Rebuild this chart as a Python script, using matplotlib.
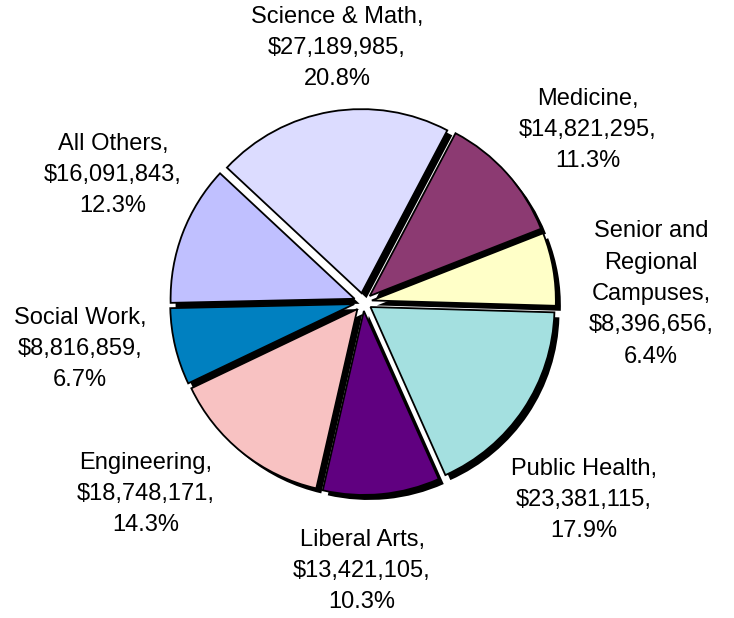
import matplotlib
matplotlib.use("Agg")
import matplotlib.pyplot as plt

# slices in clockwise order starting from Science & Math
names = ["Science & Math", "Medicine", "Senior and\nRegional\nCampuses", "Public Health",
         "Liberal Arts", "Engineering", "Social Work", "All Others"]
amounts = [27189985, 14821295, 8396656, 23381115, 13421105, 18748171, 8816859, 16091843]
colors = ["#DCDCFF", "#8C3A72", "#FFFFC8", "#A4E0E0", "#600080", "#F8C2C2", "#0080C0", "#C0C0FF"]

# label centres in pixels (x, y from top)
label_pos = [(337, 48), (588, 130), (651, 294), (584, 500),
             (362, 571), (146, 494), (80, 349), (113, 175)]

W, H = 734, 618
cx, cy = 363, H - 302
radius = 184
shadow = 5

plt.rcParams['font.family'] = ['Liberation Sans', 'DejaVu Sans']

fig = plt.figure(figsize=(W / 100, H / 100), dpi=100)
ax = fig.add_axes([0, 0, 1, 1])

# pie() offsets exploded wedges by this amount in data units (pixels here)
explode = [9] * len(amounts)

# black drop shadow first, then the coloured pie on top
ax.pie(amounts, explode=explode, startangle=137, counterclock=False,
       radius=radius, center=(cx + shadow, cy - shadow),
       colors=["black"] * len(amounts), wedgeprops=dict(linewidth=0))
ax.pie(amounts, explode=explode, startangle=137, counterclock=False,
       radius=radius, center=(cx, cy), colors=colors,
       wedgeprops=dict(edgecolor="black", linewidth=1.3))

total = sum(amounts)
for name, v, (lx, ly) in zip(names, amounts, label_pos):
    txt = "%s,\n$%s,\n%.1f%%" % (name, format(v, ","), v / total * 100)
    ax.text(lx, H - ly, txt, ha="center", va="center", multialignment="center",
            fontsize=17, linespacing=1.55, color="black")

ax.set_xlim(0, W)
ax.set_ylim(0, H)
ax.set_aspect("equal")
ax.axis("off")

fig.savefig("out.png", dpi=100)
